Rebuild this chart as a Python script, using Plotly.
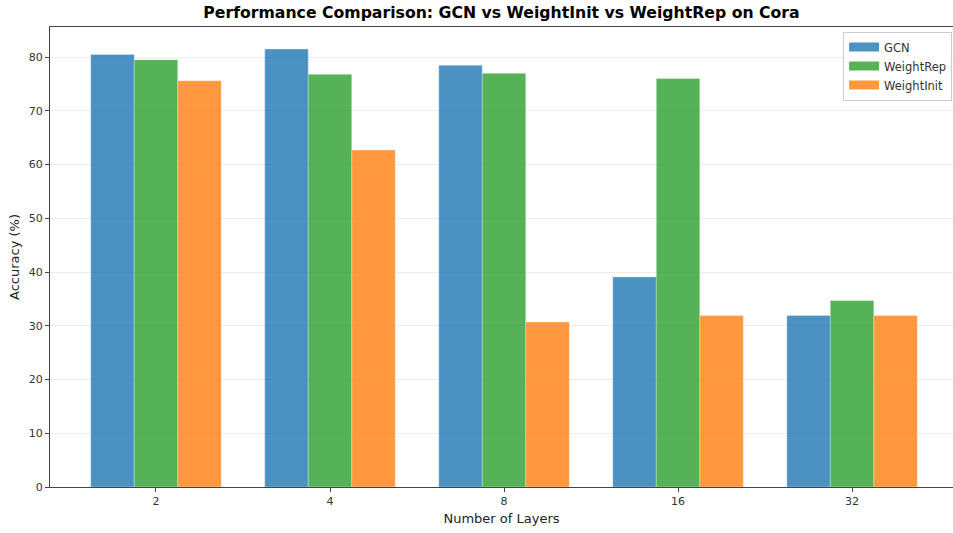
import plotly.graph_objects as go

# Accuracy (%) on Cora for increasing network depth
layers = ["2", "4", "8", "16", "32"]
gcn = [80.5, 81.5, 78.5, 39.1, 31.9]
weight_rep = [79.5, 76.8, 77.0, 76.0, 34.7]
weight_init = [75.6, 62.7, 30.7, 31.9, 31.9]

series = [
    ("GCN", gcn, "#1f77b4"),
    ("WeightRep", weight_rep, "#2ca02c"),
    ("WeightInit", weight_init, "#ff7f0e"),
]

positions = list(range(len(layers)))

fig = go.Figure()
for name, values, color in series:
    fig.add_trace(go.Bar(
        x=positions,
        y=values,
        name=name,
        showlegend=False,
        marker=dict(color=color, opacity=0.8,
                    line=dict(color="rgba(255,255,255,0.4)", width=0.8)),
    ))

# legend keys drawn as wide patches
for name, _, color in series:
    fig.add_trace(go.Scatter(
        x=[None], y=[None], name=name, mode="lines",
        line=dict(color=color, width=9), opacity=0.8,
        hoverinfo="skip",
    ))

axis_font = dict(family="DejaVu Sans", size=11, color="#333333")

fig.update_layout(
    width=953,
    height=533,
    margin=dict(l=50, r=0, t=27, b=46),
    paper_bgcolor="white",
    plot_bgcolor="white",
    barmode="group",
    bargap=0.25,
    bargroupgap=0,
    title=dict(
        text="<b>Performance Comparison: GCN vs WeightInit vs WeightRep on Cora</b>",
        font=dict(family="DejaVu Sans", size=15.7, color="black"),
        x=0.5, xref="paper", xanchor="center",
        y=1 - 13 / 533, yanchor="middle",
    ),
    legend=dict(
        x=0.999, y=0.99, xanchor="right", yanchor="top",
        bgcolor="rgba(255,255,255,0.8)",
        bordercolor="#cccccc", borderwidth=1,
        font=dict(family="DejaVu Sans", size=11.5, color="#333333"),
        tracegroupgap=0,
    ),
    xaxis=dict(
        range=[-0.609, 4.58],
        tickmode="array",
        tickvals=positions,
        ticktext=layers,
        showgrid=False,
        zeroline=False,
        showline=True, linecolor="#444444", linewidth=1.2, mirror=True,
        ticks="outside", ticklen=4, tickcolor="#444444",
        tickfont=axis_font,
        title=dict(text="Number of Layers",
                   font=dict(family="DejaVu Sans", size=13, color="#222222"),
                   standoff=6),
    ),
    yaxis=dict(
        range=[0, 85.6],
        tickmode="linear", tick0=0, dtick=10,
        showgrid=True, gridcolor="rgba(0,0,0,0.08)", gridwidth=1,
        zeroline=False,
        showline=True, linecolor="#444444", linewidth=1.2, mirror=True,
        ticks="outside", ticklen=4, tickcolor="#444444",
        tickfont=axis_font,
        title=dict(text="Accuracy (%)",
                   font=dict(family="DejaVu Sans", size=13, color="#222222"),
                   standoff=6),
    ),
)

fig.write_html("out.html")
